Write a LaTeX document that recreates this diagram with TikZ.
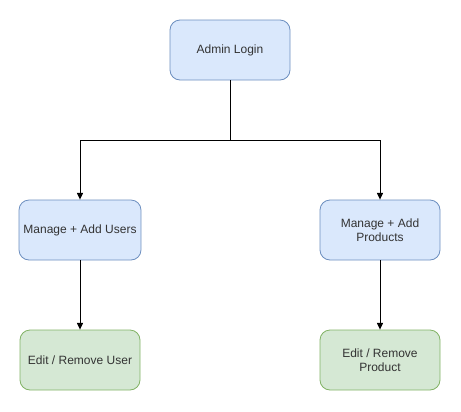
\documentclass[tikz,border=0pt]{standalone}
\usepackage{fontspec}
\setmainfont{Liberation Sans}
\usetikzlibrary{positioning,arrows.meta}

\definecolor{bluefill}{HTML}{DAE8FC}
\definecolor{bluedraw}{HTML}{6C8EBF}
\definecolor{greenfill}{HTML}{D5E8D4}
\definecolor{greendraw}{HTML}{82B366}
\definecolor{textgray}{HTML}{333333}

\begin{document}
\begin{tikzpicture}[x=0.75pt, y=-0.75pt, on grid, auto,
    box/.style={rectangle, rounded corners=7.5pt, minimum width=90pt, minimum height=45pt,
        align=center, font=\fontsize{9pt}{10.5pt}\selectfont, text=textgray, line width=0.6pt},
    taskbox/.style={box, fill=bluefill, draw=bluedraw},
    editbox/.style={box, fill=greenfill, draw=greendraw},
    link/.style={-{Triangle[length=5pt, width=4.5pt]}, line width=0.75pt}]
    \useasboundingbox (0,0) rectangle (461,411);
				\node[taskbox] (login) at (230,50) {Admin Login};
				\node[taskbox] (users) [below left=135pt and 112.5pt of login] {Manage + Add Users};
				\node[taskbox] (products) [right=225pt of users] {Manage + Add\\Products};
				\node[editbox] (edituser) [below=97.5pt of users] {Edit / Remove User};
				\node[editbox] (editproduct) [below=97.5pt of products] {Edit / Remove\\Product};
				\coordinate[below=67.5pt of login] (split);

				\draw[line width=0.75pt] (login) -- (split);
				\draw[link] (split) -| (users);
				\draw[link] (split) -| (products);
				\draw[link] (users) -- (edituser);
				\draw[link] (products) -- (editproduct);
			\end{tikzpicture}
\end{document}
